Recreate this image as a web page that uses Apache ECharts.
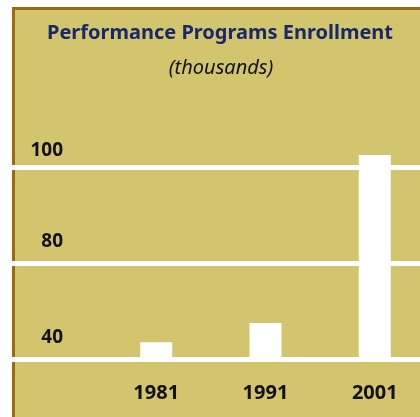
<!DOCTYPE html>
<html>
<head>
<meta charset="utf-8">
<script src="https://cdn.jsdelivr.net/npm/echarts@6/dist/echarts.min.js"></script>
<style>
  html, body { margin: 0; padding: 0; background: #fff; }
  .panel {
    position: absolute;
    left: 12px;
    top: 7px;
    width: 405px;
    height: 407px;
    background: #d3c56d;
    border-left: 3px solid #9c6a10;
    border-top: 3px solid #9c6a10;
  }
  #chart { position: absolute; left: 0; top: 0; width: 420px; height: 417px; }
</style>
</head>
<body>
<div class="panel"></div>
<div id="chart"></div>
<script>
const titleText = 'Performance Programs Enrollment'
const subtitleText = '(thousands)'
const years = [1981, 1991, 2001]
const enrollment = [47, 55, 102.5]
// broken value axis: each tick gets the same height
const tickValues = [40, 80, 100]

// value -> position on the piecewise axis (0, 1, 2 = the ticks)
function toPos (v) {
  const n = tickValues.length
  for (let i = 0; i < n - 1; i++) {
    if (v <= tickValues[i + 1]) {
      return i + (v - tickValues[i]) / (tickValues[i + 1] - tickValues[i])
    }
  }
  return (n - 2) + (v - tickValues[n - 2]) / (tickValues[n - 1] - tickValues[n - 2])
}

const seriesData = years.map((y, i) => [y, toPos(enrollment[i])])

const labelFont = 'Noto Sans'
const myChart = echarts.init(document.getElementById('chart'))

const option = {
  animation: false,
  title: [
    {
      text: titleText,
      left: 220,
      top: 23,
      padding: 0,
      textAlign: 'center',
      textStyle: {
        color: '#17296b',
        fontFamily: labelFont,
        fontWeight: 'bold',
        fontSize: 20
      }
    },
    {
      text: subtitleText,
      left: 221,
      top: 58,
      padding: 0,
      textAlign: 'center',
      textStyle: {
        color: '#111',
        fontFamily: labelFont,
        fontStyle: 'italic',
        fontWeight: 'normal',
        fontSize: 20
      }
    }
  ],
  grid: {
    left: 12,
    right: 0,
    top: 167,
    bottom: 58,
    containLabel: false
  },
  xAxis: {
    type: 'value',
    min: 1967.8,
    max: 2005.14,
    axisLine: { show: false },
    axisTick: { show: false },
    splitLine: { show: false },
    axisLabel: {
      customValues: years,
      margin: 24,
      color: '#111',
      fontFamily: labelFont,
      fontWeight: 'bold',
      fontSize: 20,
      formatter: (v) => String(v)
    }
  },
  yAxis: {
    type: 'value',
    min: 0,
    max: tickValues.length - 1,
    interval: 1,
    axisLine: { show: false },
    axisTick: { show: false },
    splitLine: {
      show: true,
      lineStyle: { color: '#ffffff', width: 5 }
    },
    axisLabel: {
      inside: true,
      align: 'right',
      margin: 51,
      formatter: (v) => {
        const t = tickValues[Math.round(v)]
        return Math.round(v) === tickValues.length - 1 ? '{hi|' + t + '}' : '{lo|' + t + '}'
      },
      rich: {
        hi: {
          color: '#111',
          fontFamily: labelFont,
          fontWeight: 'bold',
          fontSize: 19,
          padding: [0, 0, 32, 0]
        },
        lo: {
          color: '#111',
          fontFamily: labelFont,
          fontWeight: 'bold',
          fontSize: 19,
          padding: [0, 0, 42, 0]
        }
      }
    }
  },
  series: [
    {
      type: 'bar',
      data: seriesData,
      barWidth: 32,
      clip: false,
      itemStyle: { color: '#ffffff' },
      silent: true
    }
  ]
}

myChart.setOption(option)
</script>
</body>
</html>
